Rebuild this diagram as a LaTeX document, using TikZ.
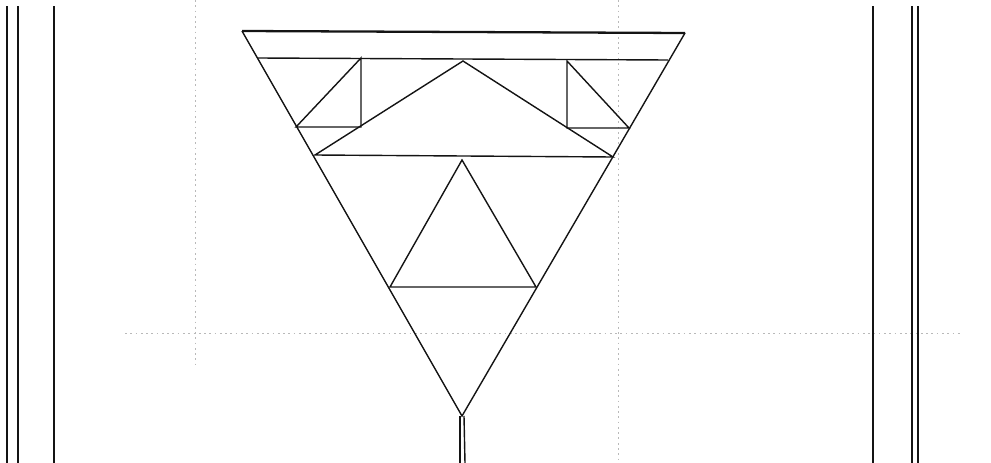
\documentclass[tikz,border=0pt]{standalone}
\usetikzlibrary{calc}
\definecolor{figTinta}{RGB}{20,20,20}
\definecolor{figTrama}{RGB}{185,185,185}
\tikzset{
  trazo/.style={draw=figTinta, line width=0.8pt, line join=miter},
  trazog/.style={draw=figTinta, line width=1.3pt},
  poste/.style={draw=figTinta, line width=0.9pt},
  trama/.style={draw=figTrama, line width=0.4pt, dash pattern=on 1pt off 2pt}
}
\begin{document}
\begin{tikzpicture}[x=0.02cm, y=-0.02cm]
  \useasboundingbox (0,0) rectangle (991,463);
  % vertices of the main figure
  \coordinate (tl) at (242,31);
  \coordinate (tr) at (685,33);
  \coordinate (apex) at (462,416);
  \coordinate (bl) at (258,58);
  \coordinate (br) at (668,60);
  % faint scan grid
  \draw[trama] (125,333) -- (960,333);
  \draw[trama] (195,0) -- (195,365);
  \draw[trama] (618,0) -- (618,463);
  % side posts
  \foreach \px in {7,18,54,873,912,918}
    \draw[poste] (\px,6) -- (\px,463);
  % outer triangle and top band
  \draw[trazog] (tl) -- (tr);
  \draw[trazo] (tl) -- (apex) -- (tr);
  \draw[trazo] (bl) -- (br);
  % corner triangles
  \coordinate (lt) at (361,58);
  \coordinate (ll) at (296,127);
  \coordinate (lr) at (361,127);
  \draw[trazo] (lt) -- (ll) -- (lr) -- cycle;
  \coordinate (rt) at (567,61);
  \coordinate (rl) at (567,128);
  \coordinate (rr) at (629,128);
  \draw[trazo] (rt) -- (rl) -- (rr) -- cycle;
  % middle triangle
  \coordinate (mt) at (463,61);
  \coordinate (ml) at (315,155);
  \coordinate (mr) at (613,157);
  \draw[trazo] (mt) -- (ml) -- (mr) -- cycle;
  % inner triangle
  \coordinate (it) at (462,160);
  \coordinate (il) at (390,287);
  \coordinate (ir) at (536,287);
  \draw[trazo] (it) -- (il) -- (ir) -- cycle;
  % stem
  \draw[trazo] ($(apex)+(-2,0)$) -- (460,463);
  \draw[trazo] ($(apex)+(2,0)$) -- (465,463);
\end{tikzpicture}
\end{document}
